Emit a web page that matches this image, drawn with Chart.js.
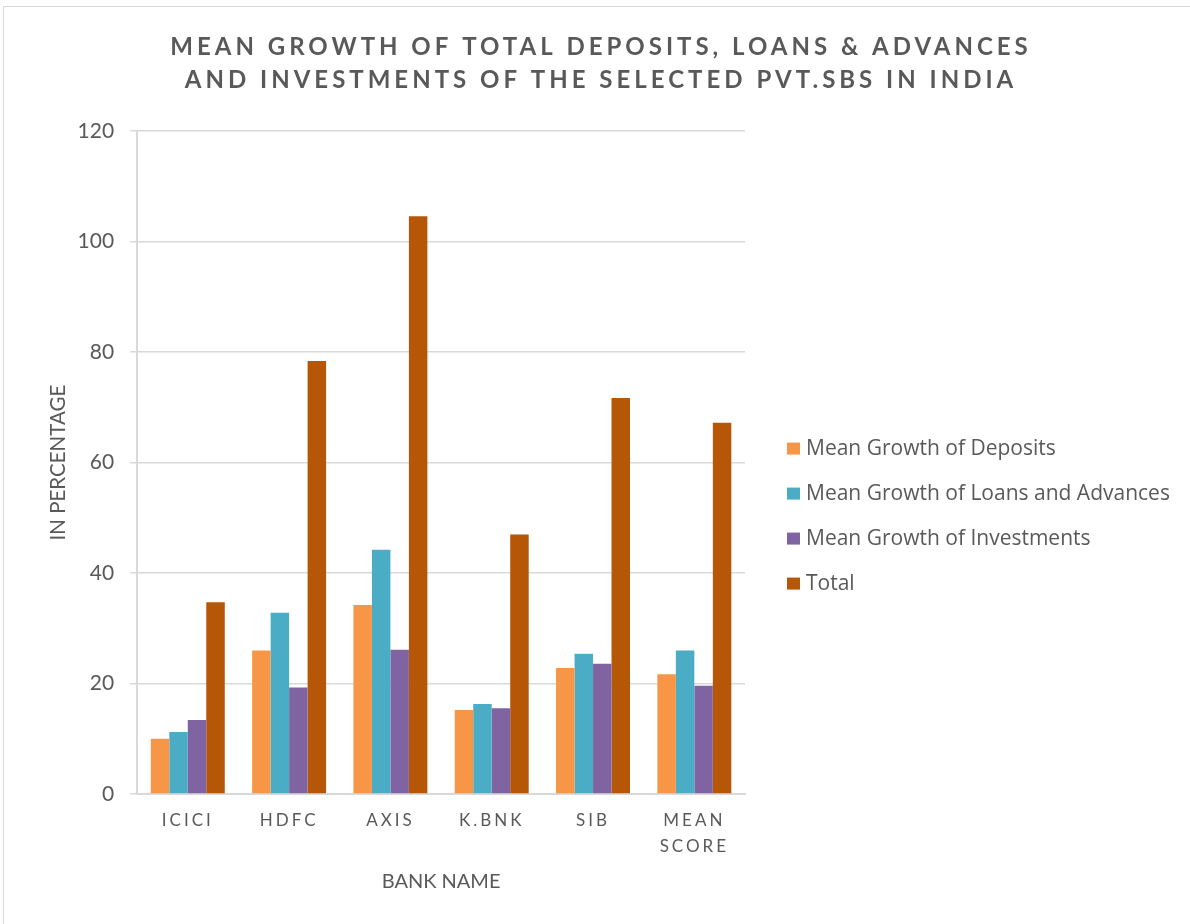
<!DOCTYPE html>
<html><head><meta charset="utf-8">
<script src="https://cdn.jsdelivr.net/npm/chart.js@4"></script>
<style>html,body{margin:0;padding:0;background:#fff}#wrap{width:1190px;height:924px;position:relative}</style>
</head><body><div id="wrap"><canvas id="c" width="1190" height="924"></canvas></div>
<script>
const categories = ['ICICI', 'HDFC', 'AXIS', 'K.BNK', 'SIB', ['MEAN', 'SCORE']];
const deposits = [10.0, 26.0, 34.2, 15.2, 22.8, 21.7];
const loans = [11.2, 32.8, 44.2, 16.3, 25.4, 26.0];
const investments = [13.4, 19.3, 26.1, 15.5, 23.6, 19.6];
const totals = [34.7, 78.4, 104.6, 47.0, 71.7, 67.2];
const seriesNames = ['Mean Growth of Deposits', 'Mean Growth of Loans and Advances', 'Mean Growth of Investments', 'Total'];
const titleLines = ['MEAN GROWTH OF TOTAL DEPOSITS, LOANS & ADVANCES', 'AND INVESTMENTS OF THE SELECTED PVT.SBS IN INDIA'];
const yMin = 0, yMax = 120, yStep = 20;

const textColor = '#595959';
const FONT = 'Lato, "Open Sans", sans-serif';
const LEGEND_FONT = '21px "Open Sans", Lato, sans-serif';

const decorPlugin = {
  id: 'decor',
  beforeDraw(chart) {
    const ctx = chart.ctx;
    ctx.save();
    ctx.strokeStyle = '#d9d9d9';
    ctx.lineWidth = 1;
    ctx.strokeRect(3.5, 6.5, 1190, 930);
    ctx.restore();
    const t = chart.titleBlock;
    if (t && !t._ls) {
      const o = t.draw.bind(t);
      t.draw = function (a) {
        const c = this.ctx;
        const l = this.left, r = this.right;
        this.left = 6; this.right = chart.width + 6;
        c.save(); c.letterSpacing = '4px'; o(a); c.restore();
        this.left = l; this.right = r;
      };
      t._ls = true;
    }
    const s = chart.scales.x;
    if (s && !s._ls) {
      const o = s.drawLabels.bind(s);
      s.drawLabels = function (a) { const c = this.ctx; c.save(); c.letterSpacing = '3px'; o(a); c.restore(); };
      s._ls = true;
    }
  },
  afterDraw(chart) {
    // legend on the right, drawn from the chart's own datasets
    const ctx = chart.ctx;
    const ds = chart.data.datasets;
    const x0 = chart.chartArea.right + 42;
    const rowH = 45;
    const midY = (chart.chartArea.top + chart.chartArea.bottom) / 2 + 53.5;
    const startY = midY - (ds.length - 1) * rowH / 2;
    ctx.save();
    ctx.font = LEGEND_FONT;
    ctx.textBaseline = 'middle';
    ctx.textAlign = 'left';
    ds.forEach((d, i) => {
      const y = startY + i * rowH;
      ctx.fillStyle = d.backgroundColor;
      ctx.fillRect(x0, y - 6, 13, 12);
      ctx.fillStyle = textColor;
      ctx.fillText(d.label, x0 + 19, y);
    });
    ctx.restore();
  }
};

const colors = ['#F79646', '#4BACC6', '#8064A2', '#B65708'];
const dataArrays = [deposits, loans, investments, totals];

new Chart(document.getElementById('c'), {
  type: 'bar',
  data: {
    labels: categories,
    datasets: seriesNames.map((n, i) => ({
      label: n,
      data: dataArrays[i],
      backgroundColor: colors[i],
      borderWidth: 0,
      categoryPercentage: 0.73,
      barPercentage: 1.0
    }))
  },
  options: {
    responsive: false,
    devicePixelRatio: 1,
    animation: false,
    layout: { padding: { left: 40, right: 445, top: 20, bottom: 30 } },
    plugins: {
      title: {
        display: true,
        text: titleLines,
        color: textColor,
        font: { family: FONT, size: 24, weight: 'bold', lineHeight: 1.4 },
        padding: { top: 10, bottom: 34 }
      },
      legend: { display: false },
      tooltip: { enabled: false }
    },
    scales: {
      x: {
        grid: { display: false, drawTicks: false },
        border: { display: true, color: '#d9d9d9', width: 2 },
        ticks: { color: textColor, font: { family: FONT, size: 17, lineHeight: 1.53 }, padding: 14, maxRotation: 0 },
        title: { display: true, text: 'BANK NAME', color: textColor, font: { family: FONT, size: 20 }, padding: { top: -4, bottom: 0 } }
      },
      y: {
        min: yMin, max: yMax,
        grid: { color: '#d9d9d9', lineWidth: 1.5, drawTicks: true, tickLength: 7 },
        border: { display: true, color: '#d9d9d9', width: 2 },
        ticks: { stepSize: yStep, color: textColor, font: { family: FONT, size: 21 }, padding: 16 },
        title: { display: true, text: 'IN PERCENTAGE', color: textColor, font: { family: FONT, size: 20.5 }, padding: { top: 6, bottom: -9 } }
      }
    }
  },
  plugins: [decorPlugin]
});
</script>
</body></html>
